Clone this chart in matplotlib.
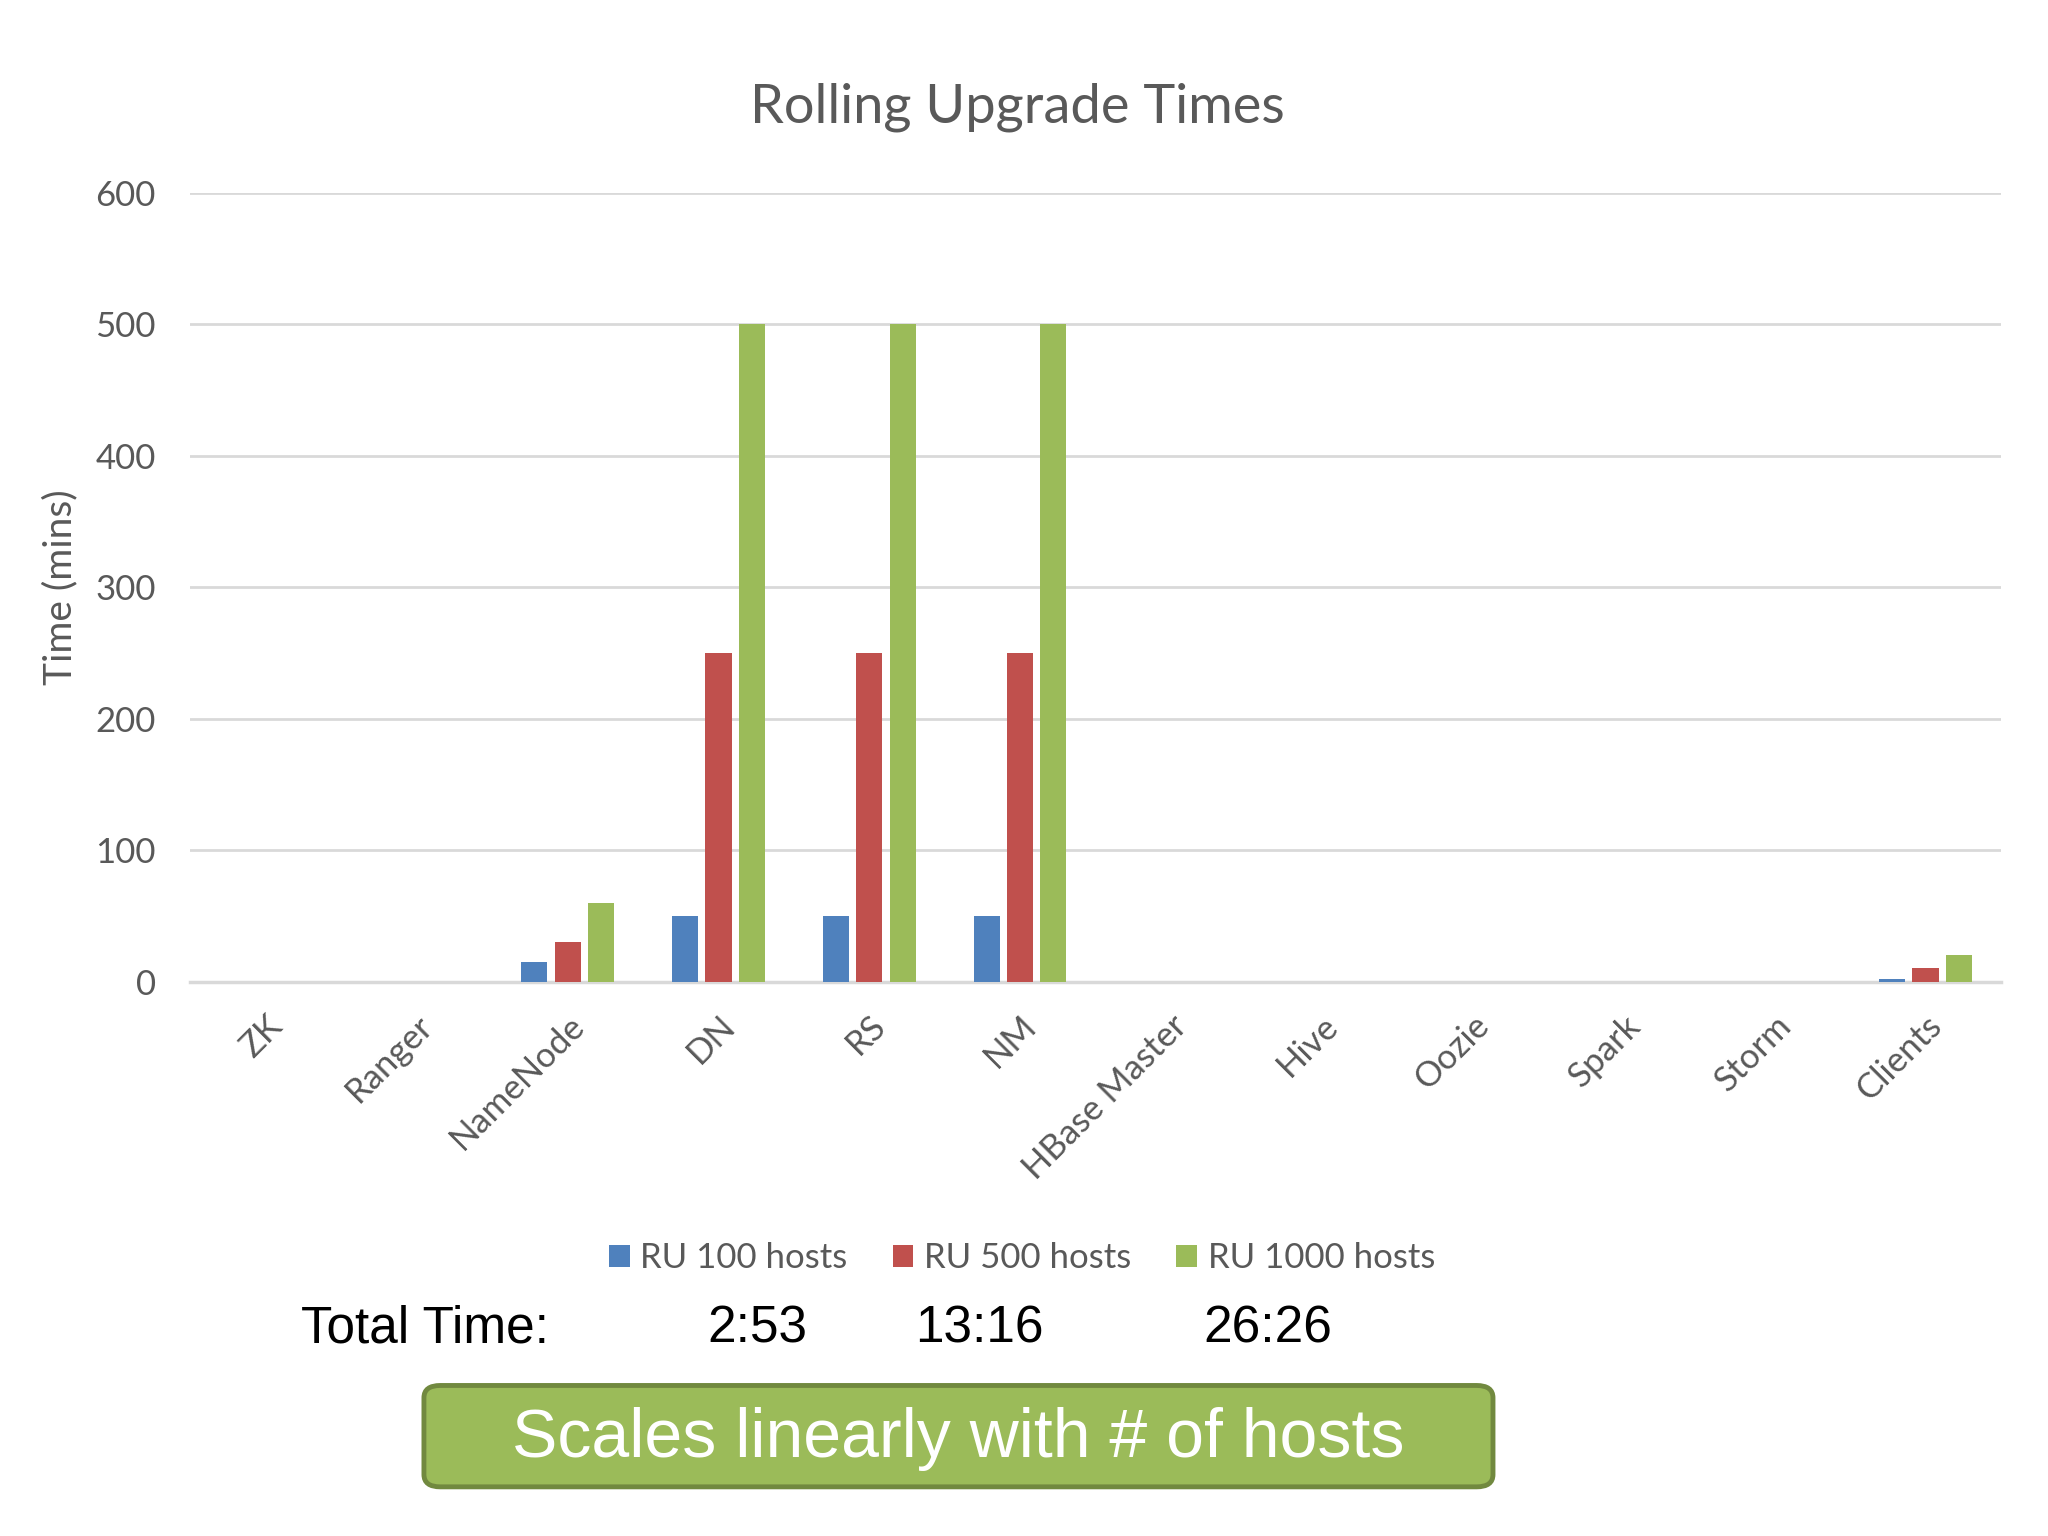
import numpy as np
import matplotlib.pyplot as plt
from matplotlib.patches import FancyBboxPatch

# Rolling upgrade times per component (minutes)
components = ['ZK', 'Ranger', 'NameNode', 'DN', 'RS', 'NM', 'HBase Master',
              'Hive', 'Oozie', 'Spark', 'Storm', 'Clients']
ru_100 = [0, 0, 15, 50, 50, 50, 0, 0, 0, 0, 0, 2]
ru_500 = [0, 0, 30, 250, 250, 250, 0, 0, 0, 0, 0, 10]
ru_1000 = [0, 0, 60, 500, 500, 500, 0, 0, 0, 0, 0, 20]
series_names = ['RU 100 hosts', 'RU 500 hosts', 'RU 1000 hosts']
total_times = ['2:53', '13:16', '26:26']
yticks = [0, 100, 200, 300, 400, 500, 600]

colors = ['#4f81bd', '#c0504d', '#9bbb59']
gray = '#595959'

plt.rcParams['font.family'] = ['Lato', 'DejaVu Sans']

fig = plt.figure(figsize=(20.48, 15.36), dpi=100)
ax = fig.add_axes([0.093, 0.361, 0.884, 0.5135])

x = np.arange(len(components))
w = 0.173
step = 0.22
for i, (vals, name) in enumerate(zip([ru_100, ru_500, ru_1000], series_names)):
    ax.bar(x + (i - 1) * step, vals, width=w, color=colors[i], label=name, zorder=3)

ax.set_xlim(-0.5, len(components) - 0.5)
ax.set_ylim(0, 600)
ax.set_yticks(yticks)
ax.yaxis.grid(True, color='#d9d9d9', linewidth=2)
ax.set_axisbelow(True)
for s in ['top', 'right', 'left']:
    ax.spines[s].set_visible(False)
ax.spines['bottom'].set_color('#d9d9d9')
ax.spines['bottom'].set_linewidth(2.5)
ax.tick_params(axis='y', length=0, labelsize=25, labelcolor=gray, pad=25)
ax.tick_params(axis='x', length=0, labelsize=25, labelcolor=gray, pad=20)
ax.set_xticks(x)
ax.set_xticklabels(components, rotation=45, ha='right', rotation_mode='anchor')
ax.set_ylabel('Time (mins)', fontsize=28, color=gray, labelpad=12)

fig.text(0.497, 0.93, 'Rolling Upgrade Times', ha='center', va='center',
         fontsize=39, color=gray)

leg = fig.legend(loc='center', bbox_to_anchor=(0.499, 0.181), ncol=3, frameon=False,
                 fontsize=25, handlelength=0.6, handleheight=0.6, handletextpad=0.3,
                 columnspacing=1.3)
for t in leg.get_texts():
    t.set_color(gray)

# summary row and callout box
sans = ['Liberation Sans', 'DejaVu Sans']
fig.text(0.147, 0.135, 'Total Time:', ha='left', va='center', fontsize=37,
         family=sans, color='black')
for xpos, t in zip([0.370, 0.478, 0.619], total_times):
    fig.text(xpos, 0.135, t, ha='center', va='center', fontsize=37,
             family=sans, color='black')

box = FancyBboxPatch((0.207, 0.032), 0.522, 0.066, transform=fig.transFigure,
                     boxstyle='round,pad=0,rounding_size=0.008',
                     facecolor='#9bbb59', edgecolor='#71893f', linewidth=3.5)
fig.patches.append(box)
fig.text(0.468, 0.063, 'Scales linearly with # of hosts', ha='center', va='center',
         fontsize=49, family=sans, color='white')

fig.savefig('out.png', dpi=100)
